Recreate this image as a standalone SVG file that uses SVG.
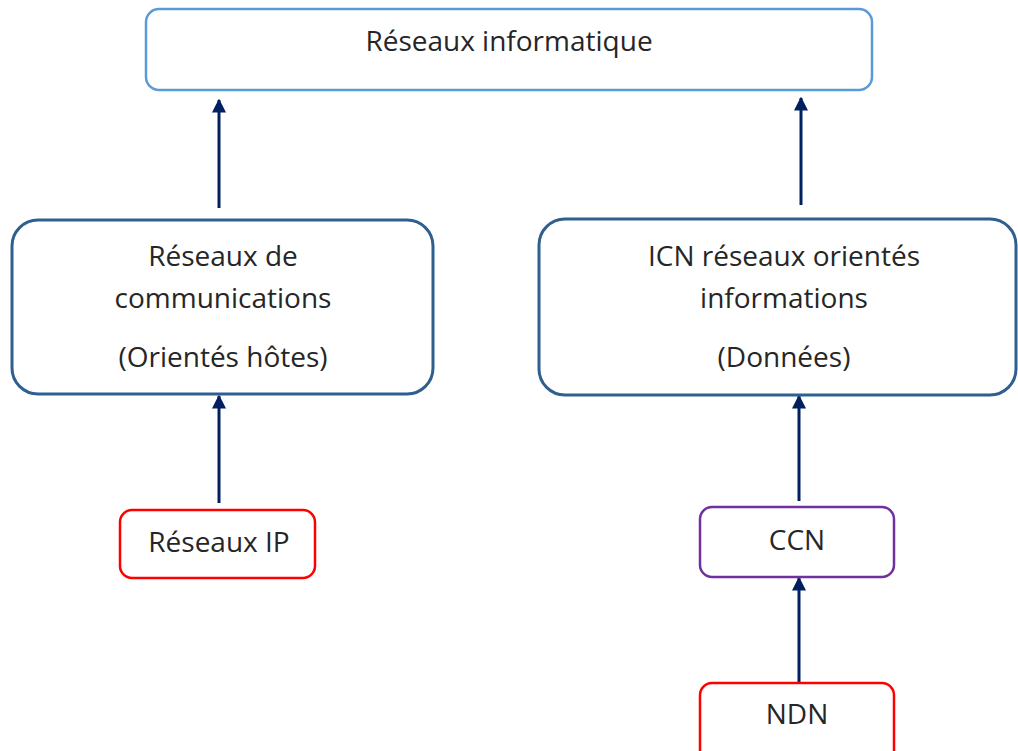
<svg xmlns="http://www.w3.org/2000/svg" width="1018" height="751" viewBox="0 0 1018 751">
  <defs>
    <marker id="arrow" viewBox="0 0 10 10" refX="9" refY="5" markerUnits="userSpaceOnUse" markerWidth="14" markerHeight="14" orient="auto">
      <path d="M0,0 L10,5 L0,10 z" fill="#002060"/>
    </marker>
    <style>
      .box { fill: #ffffff; }
      .top { stroke: #5b9bd5; stroke-width: 2.5; }
      .mid { stroke: #2f5f8f; stroke-width: 3; }
      .red { stroke: #ff0000; stroke-width: 2.5; }
      .purple { stroke: #7030a0; stroke-width: 2.5; }
      .label { font-family: "Open Sans", "Noto Sans", "Liberation Sans", sans-serif; font-size: 28px; fill: #262626; text-anchor: middle; }
      .link { stroke: #002060; stroke-width: 3; fill: none; marker-end: url(#arrow); }
    </style>
  </defs>
  <rect width="1018" height="751" fill="#ffffff"/>

  <g id="connectors">
    <line class="link" x1="219" y1="208" x2="219" y2="100"/>
    <line class="link" x1="801" y1="205" x2="801" y2="98"/>
    <line class="link" x1="219" y1="503" x2="219" y2="396"/>
    <line class="link" x1="799" y1="501" x2="799" y2="396"/>
    <line class="link" x1="799" y1="683" x2="799" y2="578"/>
  </g>

  <g id="node-reseaux-informatique">
    <rect class="box top" x="146" y="9" width="726" height="81" rx="13"/>
    <text class="label" x="509" y="51">Réseaux informatique</text>
  </g>

  <g id="node-reseaux-communications">
    <rect class="box mid" x="12" y="220" width="421" height="174" rx="26"/>
    <text class="label" x="223" y="266">Réseaux de</text>
    <text class="label" x="223" y="308">communications</text>
    <text class="label" x="223" y="367">(Orientés hôtes)</text>
  </g>

  <g id="node-icn">
    <rect class="box mid" x="539" y="219" width="477" height="176" rx="26"/>
    <text class="label" x="784" y="266">ICN réseaux orientés</text>
    <text class="label" x="784" y="308">informations</text>
    <text class="label" x="784" y="367">(Données)</text>
  </g>

  <g id="node-reseaux-ip">
    <rect class="box red" x="120" y="510" width="195" height="68" rx="12"/>
    <text class="label" x="219" y="552">Réseaux IP</text>
  </g>

  <g id="node-ccn">
    <rect class="box purple" x="700" y="507" width="194" height="70" rx="12"/>
    <text class="label" x="797" y="550">CCN</text>
  </g>

  <g id="node-ndn">
    <rect class="box red" x="700" y="683" width="194" height="80" rx="12"/>
    <text class="label" x="797" y="724">NDN</text>
  </g>
</svg>
